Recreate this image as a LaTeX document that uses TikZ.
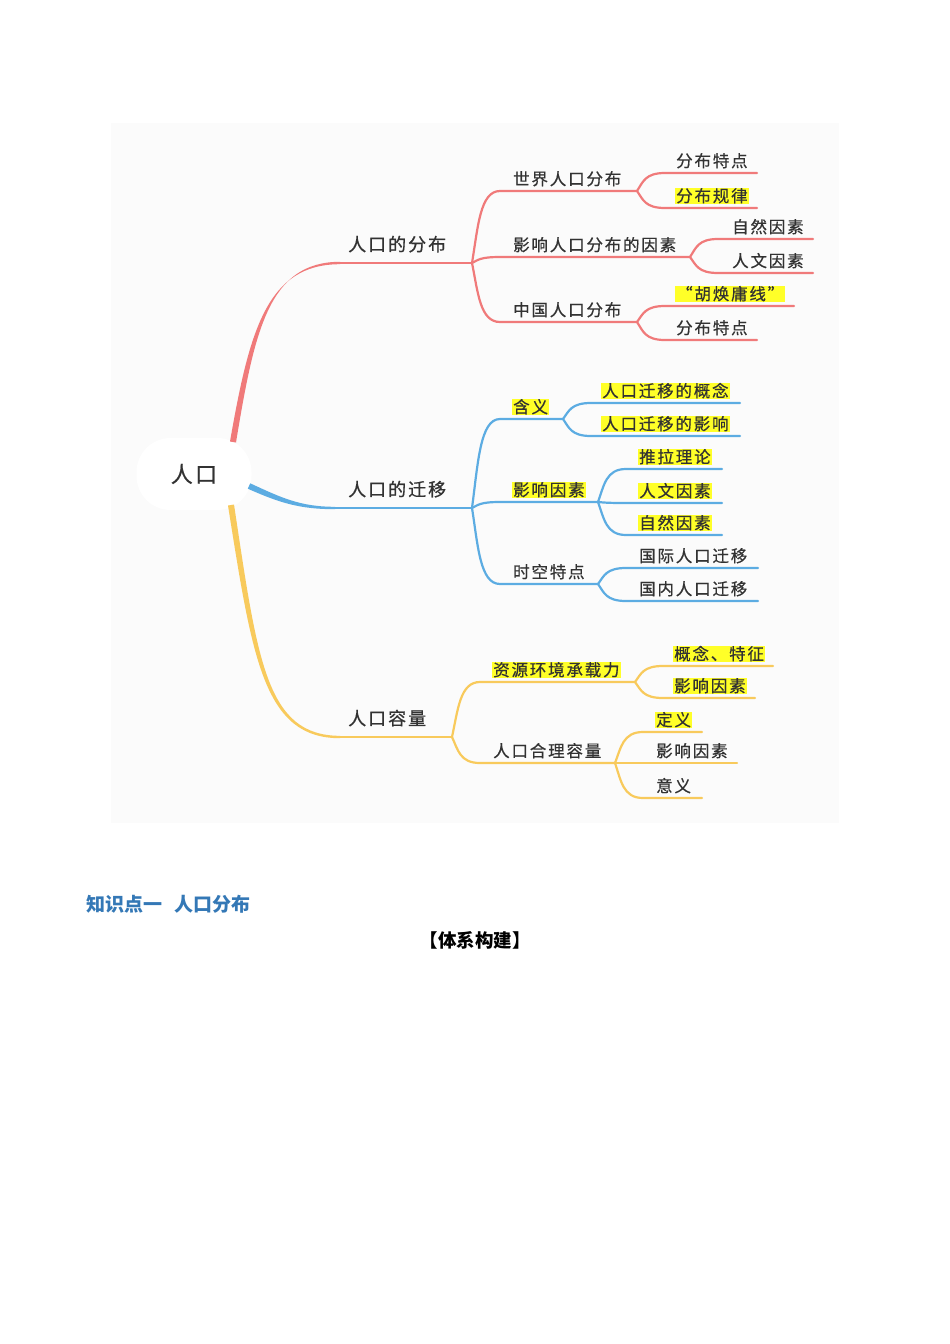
\documentclass[tikz,border=0pt]{standalone}
\usepackage{fontspec}
\usetikzlibrary{calc}
\newfontfamily\cjk[LetterSpace=11,FakeBold=0.6]{Noto Sans CJK SC}
\newfontfamily\cjkplain{Noto Sans CJK SC}
\definecolor{mapred}{RGB}{240,122,122}
\definecolor{mapblue}{RGB}{92,172,226}
\definecolor{mapyellow}{RGB}{248,202,92}
\definecolor{hlyellow}{RGB}{255,255,40}
\definecolor{textgray}{RGB}{50,50,50}
\definecolor{mapbg}{RGB}{251,251,251}
\definecolor{titleblue}{RGB}{52,120,182}

\begin{document}
\begin{tikzpicture}[
  x=1pt, y=-1pt,
  topic/.style={ % text of a branch
    anchor=base west,
    font=\cjk\fontsize{16.5}{20}\selectfont,
    text=textgray,
    inner sep=0pt, inner xsep=1pt,
    text height=14pt, text depth=2pt
  },
  main/.style={ % first level text
    topic,
    font=\cjk\fontsize{18}{22}\selectfont
  },
  hl/.style={fill=hlyellow}, % highlighted text
  plain/.style={},
  rootbox/.style={
    fill=white, rounded corners=34pt,
    minimum width=115pt, minimum height=72pt,
    font=\cjk\fontsize{22}{26}\selectfont, text=textgray
  },
  mainline/.style={line width=2.4pt},
  conn/.style={ % curve from a split point to the underline of a child
    line width=2.2pt, line cap=round,
    to path={let \p1=(\tikztostart), \p2=(\tikztotarget) in
      .. controls ({\x1+6pt},{(\y1+\y2)/2}) and ({\x1+8pt},\y2) .. ({\x1+28pt},\y2)
      -- (\tikztotarget)}
  }
  ]

  % page and map background
  \useasboundingbox (0,0) rectangle (950,1344);
  \fill[white] (0,0) rectangle (950,1344);
  \fill[mapbg] (111,123) rectangle (839,823);

  % ================= root =================
  \node[rootbox] (root) at (194,474) {人口};
  \coordinate (root-a) at (233,442);
  \coordinate (root-b) at (249,486);
  \coordinate (root-c) at (231,505);

  % ================= 人口的分布 =================
  \coordinate (a-l) at (340,263);
  \coordinate (a-s) at (472,263);
  \fill[mapred] ($(root-a)+(3,0.5)$) .. controls (254.5,330) and (269,261.8) .. ($(a-l)+(0,-1.2)$)
    -- ($(a-l)+(0,1.2)$) .. controls (267,264.2) and (249.5,330) .. ($(root-a)+(-3,-0.5)$) -- cycle;
  \draw[mainline, mapred] (a-l) -- (a-s);
  \node[main] (a) at (347,251) {人口的分布};

  \foreach \nm/\txt/\yy/\xe/\st in {a1/世界人口分布/191/637/plain, a2/影响人口分布的因素/257/690/plain, a3/中国人口分布/322/637/plain} {
    \node[topic, \st] (\nm) at (512,\yy-6) {\txt};
    \coordinate (\nm-s) at (\xe,\yy);
    \draw[conn, mapred] (a-s) to (\nm-s);
  }
  \foreach \nm/\txt/\yy/\xe/\st in {a1a/分布特点/173/757/plain, a1b/分布规律/208/757/hl} {
    \node[topic, \st] (\nm) at (675,\yy-6) {\txt};
    \coordinate (\nm-s) at (\xe,\yy);
    \draw[conn, mapred] (a1-s) to (\nm-s);
  }
  \foreach \nm/\txt/\yy/\xe/\st in {a2a/自然因素/239/813/plain, a2b/人文因素/273/813/plain} {
    \node[topic, \st] (\nm) at (731,\yy-6) {\txt};
    \coordinate (\nm-s) at (\xe,\yy);
    \draw[conn, mapred] (a2-s) to (\nm-s);
  }
  \foreach \nm/\txt/\yy/\xe/\st in {a3a/“胡焕庸线”/306/794/hl, a3b/分布特点/340/757/plain} {
    \node[topic, \st] (\nm) at (675,\yy-6) {\txt};
    \coordinate (\nm-s) at (\xe,\yy);
    \draw[conn, mapred] (a3-s) to (\nm-s);
  }

  % ================= 人口的迁移 =================
  \coordinate (b-l) at (335,508);
  \coordinate (b-s) at (472,508);
  \fill[mapblue] ($(root-b)+(1.2,-2.7)$) .. controls (281,497.5) and (300,506.8) .. ($(b-l)+(0,-1.2)$)
    -- ($(b-l)+(0,1.2)$) .. controls (299,509.2) and (279,502.5) .. ($(root-b)+(-1.2,2.7)$) -- cycle;
  \draw[mainline, mapblue] (b-l) -- (b-s);
  \node[main] (b) at (347,496) {人口的迁移};

  \foreach \nm/\txt/\yy/\xe/\st in {b1/含义/419/563/hl, b2/影响因素/502/598/hl, b3/时空特点/584/598/plain} {
    \node[topic, \st] (\nm) at (512,\yy-6) {\txt};
    \coordinate (\nm-s) at (\xe,\yy);
    \draw[conn, mapblue] (b-s) to (\nm-s);
  }
  \foreach \nm/\txt/\yy/\xe/\st in {b1a/人口迁移的概念/403/740/hl, b1b/人口迁移的影响/436/740/hl} {
    \node[topic, \st] (\nm) at (601,\yy-6) {\txt};
    \coordinate (\nm-s) at (\xe,\yy);
    \draw[conn, mapblue] (b1-s) to (\nm-s);
  }
  \foreach \nm/\txt/\yy/\xe/\st in {b2a/推拉理论/469/722/hl, b2b/人文因素/503/722/hl, b2c/自然因素/535/722/hl} {
    \node[topic, \st] (\nm) at (638,\yy-6) {\txt};
    \coordinate (\nm-s) at (\xe,\yy);
    \draw[conn, mapblue] (b2-s) to (\nm-s);
  }
  \foreach \nm/\txt/\yy/\xe/\st in {b3a/国际人口迁移/568/758/plain, b3b/国内人口迁移/601/758/plain} {
    \node[topic, \st] (\nm) at (638,\yy-6) {\txt};
    \coordinate (\nm-s) at (\xe,\yy);
    \draw[conn, mapblue] (b3-s) to (\nm-s);
  }

  % ================= 人口容量 =================
  \coordinate (c-l) at (340,737);
  \coordinate (c-s) at (452,737);
  \fill[mapyellow] ($(root-c)+(3,-0.5)$) .. controls (257.5,660) and (266,735.8) .. ($(c-l)+(0,-1.2)$)
    -- ($(c-l)+(0,1.2)$) .. controls (264,738.2) and (252.5,660) .. ($(root-c)+(-3,0.5)$) -- cycle;
  \draw[mainline, mapyellow] (c-l) -- (c-s);
  \node[main] (c) at (347,725) {人口容量};

  \foreach \nm/\txt/\yy/\xe/\st in {c1/资源环境承载力/682/635/hl, c2/人口合理容量/763/615/plain} {
    \node[topic, \st] (\nm) at (492,\yy-6) {\txt};
    \coordinate (\nm-s) at (\xe,\yy);
    \draw[conn, mapyellow] (c-s) to (\nm-s);
  }
  \foreach \nm/\txt/\yy/\xe/\st in {c1a/概念、特征/666/773/hl, c1b/影响因素/698/755/hl} {
    \node[topic, \st] (\nm) at (673,\yy-6) {\txt};
    \coordinate (\nm-s) at (\xe,\yy);
    \draw[conn, mapyellow] (c1-s) to (\nm-s);
  }
  \foreach \nm/\txt/\yy/\xe/\st in {c2a/定义/732/702/hl, c2b/影响因素/763/737/plain, c2c/意义/798/702/plain} {
    \node[topic, \st] (\nm) at (655,\yy-6) {\txt};
    \coordinate (\nm-s) at (\xe,\yy);
    \draw[conn, mapyellow] (c2-s) to (\nm-s);
  }

  % ================= text below the map =================
  \node[anchor=west, inner sep=0pt, font=\cjkplain\bfseries\fontsize{19}{23}\selectfont, text=titleblue] (point)
    at (86,904) {知识点一\hspace{0.65em}人口分布};
  \node[inner sep=0pt, font=\cjkplain\bfseries\fontsize{18.5}{22}\selectfont, text=black] (build)
    at (475,940) {【体系构建】};

\end{tikzpicture}
\end{document}
